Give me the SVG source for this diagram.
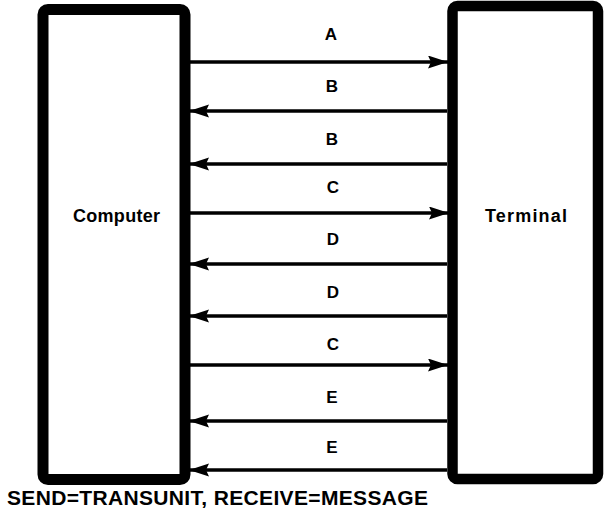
<svg xmlns="http://www.w3.org/2000/svg" width="606" height="514" viewBox="0 0 606 514">
<style>
.box{fill:#fff;stroke:#000;stroke-width:11;}
.conn{stroke:#000;stroke-width:3.5;fill:none;}
.lbl{font-family:"Liberation Sans",Arial,sans-serif;font-weight:bold;font-size:17px;fill:#000;text-anchor:middle;}
.name{font-family:"Liberation Sans",Arial,sans-serif;font-weight:bold;font-size:18px;fill:#000;}
.note{font-family:"Liberation Sans",Arial,sans-serif;font-weight:bold;font-size:21px;fill:#000;}
</style>
<defs>
<marker id="ah" markerUnits="userSpaceOnUse" markerWidth="21" markerHeight="14" refX="20" refY="6.5" orient="auto">
<path d="M0,0 L20,6.5 L0,13 L3,6.5 Z" fill="#000"/>
</marker>
</defs>
<rect width="606" height="514" fill="#fff"/>
<g id="computer">
<rect class="box" x="43" y="9.5" width="142" height="470" rx="5"/>
<text class="name" x="73" y="222" textLength="87" lengthAdjust="spacing">Computer</text>
</g>
<g id="terminal">
<rect class="box" x="452.5" y="6" width="145.5" height="473" rx="5" style="stroke-width:10.5"/>
<text class="name" x="485" y="222" textLength="82" lengthAdjust="spacing">Terminal</text>
</g>
<g id="connectors">
<line class="conn" x1="190" y1="62" x2="448" y2="62" marker-end="url(#ah)"/>
<line class="conn" x1="447" y1="111" x2="189" y2="111" marker-end="url(#ah)"/>
<line class="conn" x1="447" y1="164" x2="189" y2="164" marker-end="url(#ah)"/>
<line class="conn" x1="190" y1="213" x2="449" y2="213" marker-end="url(#ah)"/>
<line class="conn" x1="447" y1="264" x2="189" y2="264" marker-end="url(#ah)"/>
<line class="conn" x1="447" y1="316" x2="189" y2="316" marker-end="url(#ah)"/>
<line class="conn" x1="190" y1="365" x2="448" y2="365" marker-end="url(#ah)"/>
<line class="conn" x1="447" y1="421" x2="189" y2="421" marker-end="url(#ah)"/>
<line class="conn" x1="447" y1="470" x2="189" y2="470" marker-end="url(#ah)"/>
</g>
<g id="labels">
<text class="lbl" x="331" y="40">A</text>
<text class="lbl" x="332" y="92">B</text>
<text class="lbl" x="332" y="145">B</text>
<text class="lbl" x="333" y="193">C</text>
<text class="lbl" x="333" y="245">D</text>
<text class="lbl" x="333" y="298">D</text>
<text class="lbl" x="333" y="350">C</text>
<text class="lbl" x="332" y="403">E</text>
<text class="lbl" x="332" y="453">E</text>
</g>
<text class="note" x="7" y="505" textLength="421" lengthAdjust="spacing">SEND=TRANSUNIT, RECEIVE=MESSAGE</text>
</svg>
